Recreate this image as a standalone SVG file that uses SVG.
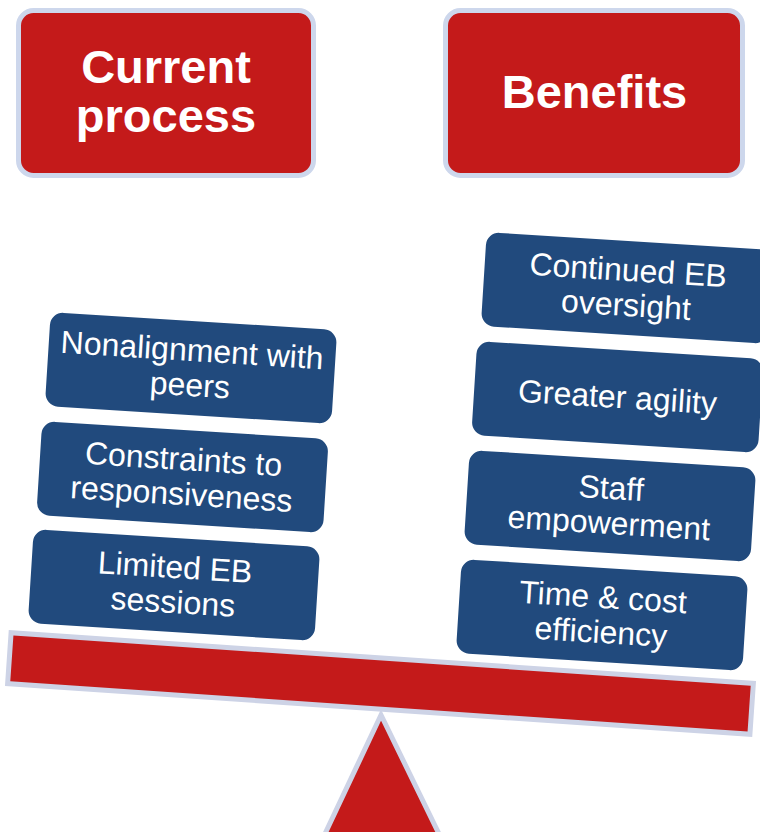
<svg xmlns="http://www.w3.org/2000/svg" width="760" height="832" viewBox="0 0 760 832">
<style>
.hdr{fill:#c41a1a;stroke:#cdd7ec;stroke-width:5}
.htx{font-family:"Liberation Sans",Arial,sans-serif;font-weight:bold;font-size:47px;fill:#ffffff;text-anchor:middle}
.box{fill:#214a7d}
.btx{font-family:"Liberation Sans",Arial,sans-serif;font-size:32px;fill:#ffffff;text-anchor:middle}
.red{fill:#c41a1a;stroke:#cdd3e6;stroke-width:5}
</style>
<rect width="760" height="832" fill="#ffffff"/>
<g id="header-current">
<rect class="hdr" x="18.5" y="10.5" width="295" height="165" rx="15"/>
<text class="htx" x="166" y="83">Current</text>
<text class="htx" x="166" y="132">process</text>
</g>
<g id="header-benefits">
<rect class="hdr" x="445.5" y="10.5" width="297" height="165" rx="15"/>
<text class="htx" x="594.5" y="108">Benefits</text>
</g>
<g id="fulcrum">
<polygon class="red" points="381,715 323,838 441,838"/>
</g>
<g id="beam">
<rect class="red" x="-372" y="-25.5" width="744" height="51" transform="translate(380.5,683.5) rotate(3.9)"/>
</g>
<g id="left-1" transform="translate(191,368) rotate(3.6)">
<rect class="box" x="-143.5" y="-47" width="287" height="94" rx="13"/>
<text class="btx" x="0" y="-7">Nonalignment with</text>
<text class="btx" x="0" y="28">peers</text>
</g>
<g id="left-2" transform="translate(182.5,477) rotate(3.6)">
<rect class="box" x="-143.5" y="-47" width="287" height="94" rx="13"/>
<text class="btx" x="0" y="-7">Constraints to</text>
<text class="btx" x="0" y="28">responsiveness</text>
</g>
<g id="left-3" transform="translate(174,585) rotate(3.6)">
<rect class="box" x="-143.5" y="-47" width="287" height="94" rx="13"/>
<text class="btx" x="0" y="-7">Limited EB</text>
<text class="btx" x="0" y="28">sessions</text>
</g>
<g id="right-1" transform="translate(627,288) rotate(3.6)">
<rect class="box" x="-143.5" y="-47" width="287" height="94" rx="13"/>
<text class="btx" x="0" y="-7">Continued EB</text>
<text class="btx" x="0" y="28">oversight</text>
</g>
<g id="right-2" transform="translate(617.5,397) rotate(3.6)">
<rect class="box" x="-143.5" y="-47" width="287" height="94" rx="13"/>
<text class="btx" x="0" y="11">Greater agility</text>
</g>
<g id="right-3" transform="translate(610,506) rotate(3.6)">
<rect class="box" x="-143.5" y="-47" width="287" height="94" rx="13"/>
<text class="btx" x="0" y="-7">Staff</text>
<text class="btx" x="0" y="28">empowerment</text>
</g>
<g id="right-4" transform="translate(602,615) rotate(3.6)">
<rect class="box" x="-143.5" y="-47" width="287" height="94" rx="13"/>
<text class="btx" x="0" y="-7">Time &amp; cost</text>
<text class="btx" x="0" y="28">efficiency</text>
</g>
<g id="connectors"></g>
</svg>
